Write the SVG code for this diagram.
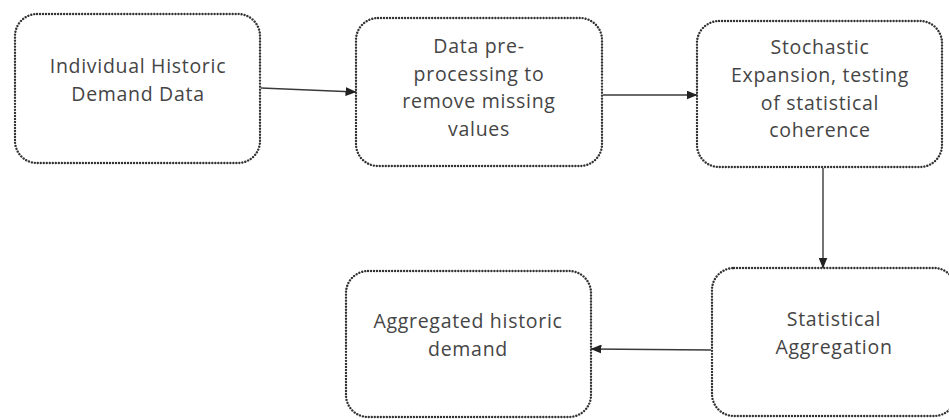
<svg xmlns="http://www.w3.org/2000/svg" width="949" height="419" viewBox="0 0 949 419">
  <style>
    .box { fill: #ffffff; stroke: #333333; stroke-width: 2.4; stroke-dasharray: 0.01 3; stroke-linecap: round; }
    .label { font-family: "Open Sans", "Liberation Sans", sans-serif; font-size: 19.5px; letter-spacing: 0.7px; fill: #454545; text-anchor: middle; }
    .link { stroke: #3a3a3a; stroke-width: 1.4; fill: none; marker-end: url(#arrow); }
  </style>
  <defs>
    <marker id="arrow" markerUnits="userSpaceOnUse" markerWidth="11" markerHeight="9" refX="10.5" refY="4.5" orient="auto">
      <path d="M0,0 L11,4.5 L0,9 z" fill="#222222"/>
    </marker>
  </defs>
  <rect width="949" height="419" fill="#ffffff"/>

  <!-- process steps -->
  <g id="historic-data">
    <rect class="box" x="15" y="14" width="245" height="149" rx="22" ry="22"/>
    <text class="label" x="138" y="73">Individual Historic</text>
    <text class="label" x="138" y="101">Demand Data</text>
  </g>

  <g id="preprocessing">
    <rect class="box" x="356" y="18" width="246" height="148" rx="22" ry="22"/>
    <text class="label" x="479" y="53">Data pre-</text>
    <text class="label" x="479" y="80.5">processing to</text>
    <text class="label" x="479" y="108">remove missing</text>
    <text class="label" x="479" y="135.5">values</text>
  </g>

  <g id="stochastic-expansion">
    <rect class="box" x="697" y="21" width="245" height="146" rx="22" ry="22"/>
    <text class="label" x="820" y="54">Stochastic</text>
    <text class="label" x="820" y="82">Expansion, testing</text>
    <text class="label" x="820" y="110">of statistical</text>
    <text class="label" x="820" y="137">coherence</text>
  </g>

  <g id="statistical-aggregation">
    <rect class="box" x="712" y="268" width="244" height="148" rx="22" ry="22"/>
    <text class="label" x="834" y="326">Statistical</text>
    <text class="label" x="834" y="354">Aggregation</text>
  </g>

  <g id="aggregated-demand">
    <rect class="box" x="346" y="271" width="245" height="146" rx="22" ry="22"/>
    <text class="label" x="468" y="328">Aggregated historic</text>
    <text class="label" x="468" y="356">demand</text>
  </g>

  <!-- connectors -->
  <g id="connectors">
    <line class="link" x1="261" y1="88" x2="356" y2="92"/>
    <line class="link" x1="603" y1="95" x2="697" y2="95"/>
    <line class="link" x1="823" y1="168" x2="823" y2="268"/>
    <line class="link" x1="711" y1="350" x2="591" y2="349"/>
  </g>
</svg>
